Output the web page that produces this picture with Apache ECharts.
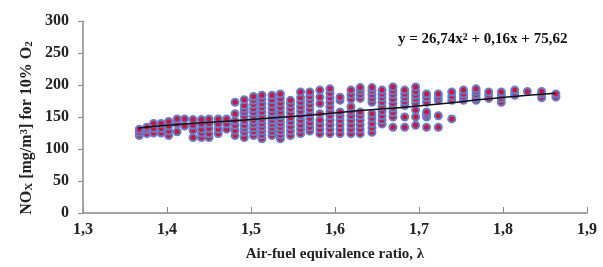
<!DOCTYPE html>
<html><head><meta charset="utf-8">
<script src="https://cdn.jsdelivr.net/npm/echarts@6/dist/echarts.min.js"></script>
<style>html,body{margin:0;padding:0;background:#fff}#c{width:603px;height:267px}</style>
</head><body><div id="c"></div>
<script>
// lambda positions of the measurement columns
var lambdas = [1.367,1.376,1.384,1.393,1.402,1.412,1.421,1.431,1.441,1.450,1.461,1.471,1.481,1.492,1.503,1.513,1.525,1.535,1.547,1.559,1.570,1.582,1.594,1.606,1.619,1.630,1.644,1.656,1.669,1.683,1.696,1.709,1.723,1.739,1.753,1.768,1.783,1.798,1.814,1.829,1.846,1.863];
// NOx values measured in each column
var noxValues = [
 [121,126,131],[124,130,134],[125,132,140],[125,132,140],[121,128,136,143],[127,139,147],[136,147],
 [118,129,137,146],[118,125,131,139,146],[118,124,132,140,147],[124,131,139,147],[131,139,147],
 [121,129,137,144,155,173],[118,126,132,137,144,151,158,163,168,177],[121,127,133,139,145,151,157,163,170,176,182],
 [116,122,128,134,140,146,152,158,165,171,178,184],[121,127,133,139,145,151,157,163,170,177,184],
 [116,122,128,134,140,146,152,158,165,172,179,186],[121,128,135,142,149,156,163,170,176],
 [124,131,138,145,152,159,166,173,180,189],[128,134,141,148,155,162,169,176,182,189],
 [124,131,138,145,155,171,181,192],[124,131,138,145,152,159,166,173,180,187,194],
 [124,131,138,145,152,158,176,181],[124,131,138,145,152,159,166,178,185,192],
 [124,131,138,145,152,158,179,185,191,196],[126,133,140,148,155,173,179,185,191,196],
 [139,145,152,159,166,173,180,186,192],[134,150,157,164,171,178,185,191,197],
 [134,150,168,174,180,186,192],[137,150,161,172,178,184,190,197],[134,150,154,158,173,180,186],
 [134,152,176,181,186],[147,176,182,189],[176,181,186,192],[176,180,185,190,194],[179,184,189],
 [173,179,184,189],[184,188,192],[190],[180,186,190],[181,186]
];
// trend line
var trendX = [1.366,1.42,1.48,1.52,1.58,1.63,1.68,1.73,1.78,1.83,1.862];
var trendY = [133,139,144,148,154,160,165,171,178,184,187];
var xTicks = ['1,3','1,4','1,5','1,6','1,7','1,8','1,9'];
var yTicks = [0,50,100,150,200,250,300];

var pts = [];
lambdas.forEach(function(l,i){ noxValues[i].forEach(function(v){ pts.push([l,v]); }); });
var trend = trendX.map(function(x,i){ return [x,trendY[i]]; });

var F = 'Liberation Serif';
var chart = echarts.init(document.getElementById('c'));
chart.setOption({
  animation:false,
  grid:{left:83,right:16,top:21,bottom:54},
  xAxis:{type:'value',min:1.3,max:1.9,interval:0.1,
    axisLine:{lineStyle:{color:'#888',width:1.5}},
    axisTick:{inside:true,length:6,lineStyle:{color:'#888'}},
    splitLine:{show:false},
    axisLabel:{margin:9,fontFamily:F,fontWeight:'bold',fontSize:16,color:'#222',
      formatter:function(v){var i=Math.round((v-1.3)*10);return xTicks[i];}},
    name:'Air-fuel equivalence ratio, λ',nameLocation:'middle',nameGap:34,
    nameTextStyle:{fontFamily:F,fontWeight:'bold',fontSize:15,color:'#222'}
  },
  yAxis:{type:'value',min:0,max:300,interval:50,
    axisLine:{show:true,lineStyle:{color:'#888',width:1.5}},
    axisTick:{show:true,length:5,lineStyle:{color:'#888'}},
    splitLine:{show:false},
    axisLabel:{margin:14,fontFamily:F,fontWeight:'bold',fontSize:16,color:'#222',
      formatter:function(v){return String(v);}}
  },
  graphic:[
    {type:'text',left:398,top:32,style:{text:'{a|y = 26,74x}{s|2}{a| + 0,16x + 75,62}',
      rich:{a:{fontFamily:F,fontWeight:'bold',fontSize:15,fill:'#111',verticalAlign:'bottom'},
            s:{fontFamily:F,fontWeight:'bold',fontSize:10,fill:'#111',verticalAlign:'top'}}}},
    {type:'text',x:27,y:128,rotation:Math.PI/2,
      style:{text:'{a|NO}{b|X}{a| [mg/m}{s|3}{a|] for 10% O}{b|2}',align:'center',verticalAlign:'middle',
      rich:{a:{fontFamily:F,fontWeight:'bold',fontSize:16,fill:'#222',verticalAlign:'middle'},
            b:{fontFamily:F,fontWeight:'bold',fontSize:11,fill:'#222',verticalAlign:'bottom'},
            s:{fontFamily:F,fontWeight:'bold',fontSize:11,fill:'#222',verticalAlign:'top'}}}}
  ],
  series:[
    {type:'scatter',data:pts,symbol:'circle',symbolSize:7,
      itemStyle:{color:'#c8163c',borderColor:'#6a7cc8',borderWidth:2,opacity:1}},
    {type:'line',data:trend,smooth:true,symbol:'none',lineStyle:{color:'#111',width:1.5},z:5}
  ]
});
</script></body></html>
